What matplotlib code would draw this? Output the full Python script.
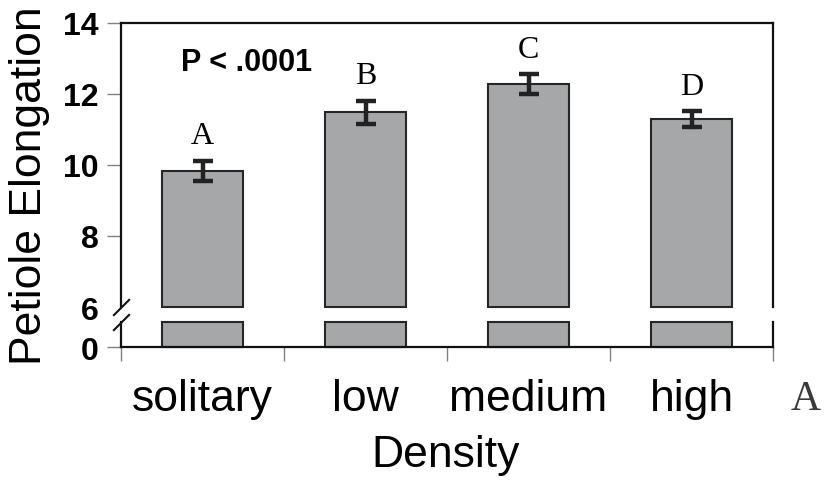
import numpy as np
import matplotlib.pyplot as plt

# petiole elongation by planting density (mean +/- SE)
density = ['solitary', 'low', 'medium', 'high']
elong_mean = [9.83, 11.48, 12.28, 11.30]
elong_err = [0.29, 0.33, 0.27, 0.22]
groups = ['A', 'B', 'C', 'D']

bar_col = '#a6a7a9'
edge_col = '#262626'
tick_col = '#808080'
sans = 'Liberation Sans'

brk = 6        # axis broken between 0 and 6
lo_top = 1.0   # height of the short bottom segment

fig = plt.figure(figsize=(8.27, 4.85), dpi=100)
W, H = 827.0, 485.0
ax = fig.add_axes([121 / W, (H - 308) / H, 652 / W, 284 / H])
ax2 = fig.add_axes([121 / W, (H - 348) / H, 652 / W, 25 / H])

x = np.arange(len(density))
vals = np.array(elong_mean)

# top segment: bars start at the break
ax.bar(x, vals - brk, bottom=brk, width=0.5, color=bar_col,
       edgecolor=edge_col, linewidth=1.5, clip_on=False, zorder=2)
ax.errorbar(x, vals, yerr=elong_err, fmt='none', ecolor='#222222',
            elinewidth=3.2, capsize=7.5, capthick=3.2, zorder=3)
ax.set_xlim(-0.5, 3.5)
ax.set_ylim(brk, 14)

for xi, m, e, g in zip(x, elong_mean, elong_err, groups):
    ax.annotate(g, (xi, m + e), xytext=(0, 18), textcoords='offset points',
                ha='center', va='center', fontsize=23, family='Liberation Serif')

ax.text(0.192, 0.863, 'P < .0001', transform=ax.transAxes, ha='center',
        va='center', fontsize=22, fontweight='bold', family=sans)

# bottom segment
ax2.bar(x, np.minimum(vals, lo_top), width=0.5, color=bar_col,
        edgecolor=edge_col, linewidth=1.5, clip_on=False, zorder=2)
ax2.set_xlim(-0.5, 3.5)
ax2.set_ylim(0, lo_top)

for a in (ax, ax2):
    for s in a.spines.values():
        s.set_linewidth(1.6)
        s.set_color('#111111')
    a.tick_params(axis='y', direction='out', length=10, width=1,
                  color=tick_col, pad=6, labelsize=23)

ax.spines['bottom'].set_visible(False)
ax2.spines['top'].set_visible(False)

ax.set_yticks([6, 8, 10, 12, 14])
ax.yaxis.get_major_ticks()[0].tick1line.set_visible(False)
ax2.set_yticks([0])
for a in (ax, ax2):
    for lab in a.get_yticklabels():
        lab.set_fontweight('bold')
        lab.set_family(sans)

ax.set_xticks([])
ax2.set_xticks(x)
ax2.set_xticklabels(density, fontsize=32, family=sans)
ax2.set_xticks(np.arange(-0.5, 4, 1), minor=True)
ax2.tick_params(axis='x', which='major', length=0, pad=22)
ax2.tick_params(axis='x', which='minor', direction='out', length=10,
                width=1, color=tick_col)

# break marks on the left axis
for a, yy in ((ax, 0), (ax2, 1)):
    a.plot([0], [yy], transform=a.transAxes, marker=[(-1, -1), (1, 1)],
           markersize=12, mew=1.5, color='#111111', clip_on=False, zorder=5)

fig.text(30 / W, (H - 186) / H, 'Petiole Elongation', rotation=90,
         ha='center', va='center', fontsize=32, family=sans)
fig.text(446 / W, (H - 456) / H, 'Density', ha='center', va='center',
         fontsize=32, family=sans)
fig.text(806 / W, (H - 400) / H, 'A', ha='center', va='center',
         fontsize=30, family='Liberation Serif', color='#3a3a3a')

fig.savefig('out.png', dpi=100)
